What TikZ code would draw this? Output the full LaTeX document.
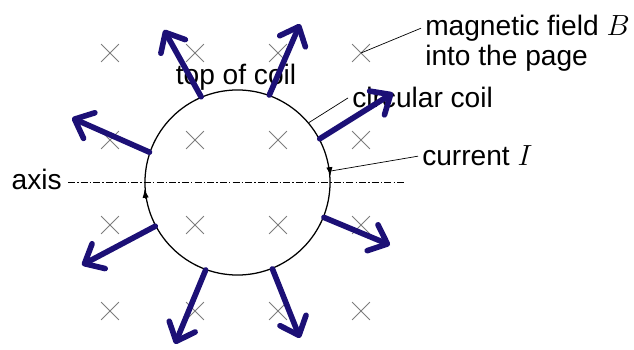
\documentclass[tikz,border=0pt]{standalone}
\usepackage{fontspec}
\setmainfont{Liberation Sans}
\usepackage{amsmath}
\usetikzlibrary{arrows.meta, positioning, shapes.misc, calc}
\definecolor{forceBlue}{RGB}{28,16,118}
\definecolor{fieldGrey}{RGB}{125,125,125}

\begin{document}
\begin{tikzpicture}[x=0.025cm, y=0.025cm,
    lbl/.style={font=\fontsize{20}{21}\selectfont, inner sep=0pt},
    bmark/.style={cross out, draw=fieldGrey, line width=0.7pt, minimum size=0.42cm, inner sep=0pt},
    coilring/.style={circle, draw, line width=0.9pt, minimum size=4.625cm, inner sep=0pt},
    leader/.style={line width=0.5pt},
    cur/.style={line width=0.9pt, -{Latex[length=2.2mm, width=1.6mm]}},
    force/.style={forceBlue, line width=4pt, line cap=round,
      -{Straight Barb[length=4mm, width=7mm, round]}}]
  \useasboundingbox (0,0) rectangle (634,350);
  % field crosses
  \foreach \cx [count=\i] in {110,195,278,361}
    \foreach \cy [count=\j] in {297,210,125,39}
      \node[bmark] (b\j\i) at (\cx,\cy) {};
  % coil and axis
  \node[coilring] (coil) at (237.5,167.5) {};
  \node[lbl, anchor=base east] (axislbl) at (62,160) {axis};
  \coordinate (axisstart) at (68,167.5);
  \coordinate (axisend) at (405,167.5);
  \draw[line width=0.5pt, dash pattern=on 5pt off 1.5pt on 1pt off 1.5pt] (axisstart) -- (axisend);
  \draw[cur] (coil.9) -- (coil.4);
  \draw[cur] (coil.190) -- (coil.184);
  % labels
  \node[lbl, anchor=base] (toplbl) at (236,265) {top of coil};
  \node[lbl, anchor=north west, align=left] (field) at (425,335) {magnetic field $B$\\into the page};
  \node[lbl, anchor=base west] (coillbl) at (352,242) {circular coil};
  \node[lbl, anchor=base west] (curlbl) at (422,184) {current $I$};
  \draw[leader] ([xshift=-1mm, yshift=-3.3mm]field.north west) -- (b14.center);
  \draw[leader] ([xshift=-1mm]coillbl.west) -- (coil.40);
  \draw[leader] ([xshift=-1mm]curlbl.west) -- (coil.7);
  % force arrows
  \foreach \ang/\tx/\ty [count=\k] in {113/164/320, 70/300/326, 161/72/232, 28/393/257,
      208/82/85, 338/390/105, 250/175/6, 292/300/12}
  {
    \coordinate (tip\k) at (\tx,\ty);
    \draw[force] (coil.\ang) -- (tip\k);
  }
\end{tikzpicture}
\end{document}
